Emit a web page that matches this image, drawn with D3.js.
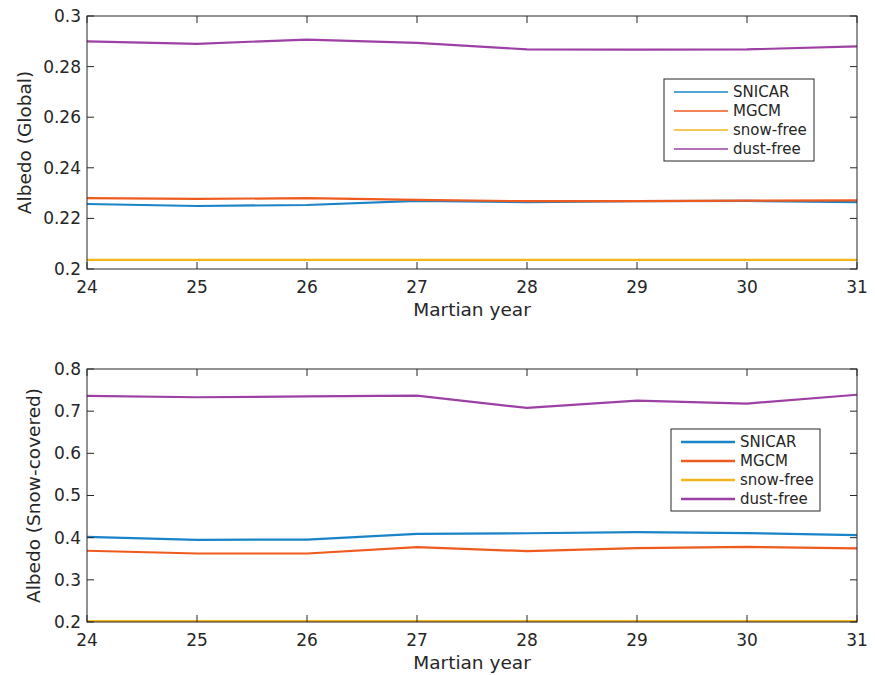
<!DOCTYPE html>
<html><head><meta charset="utf-8">
<script src="https://cdn.jsdelivr.net/npm/d3@7"></script>
<style>body{margin:0;background:#fff}svg{display:block}text{font-family:"DejaVu Sans",sans-serif;fill:#262626}</style>
</head><body><svg id="c" width="875" height="675"></svg>
<script>
const years = [24, 25, 26, 27, 28, 29, 30, 31];
const seriesNames = ["SNICAR", "MGCM", "snow-free", "dust-free"];
const seriesColors = ["#1a84c8", "#ef5a1e", "#f4b41c", "#9c40a4"];

const globalSNICAR = [0.2257, 0.2249, 0.2253, 0.2269, 0.2264, 0.2268, 0.2269, 0.2264];
const globalMGCM = [0.2280, 0.2277, 0.2280, 0.2273, 0.2268, 0.2268, 0.2270, 0.2271];
const globalSnowFree = [0.2036, 0.2036, 0.2036, 0.2036, 0.2036, 0.2036, 0.2036, 0.2036];
const globalDustFree = [0.2900, 0.2890, 0.2907, 0.2894, 0.2868, 0.2867, 0.2868, 0.2880];

const snowSNICAR = [0.402, 0.395, 0.3955, 0.409, 0.4105, 0.413, 0.411, 0.406];
const snowMGCM = [0.369, 0.3625, 0.3625, 0.3775, 0.368, 0.375, 0.378, 0.3745];
const snowSnowFree = [0.2024, 0.2024, 0.2024, 0.2024, 0.2024, 0.2024, 0.2024, 0.2024];
const snowDustFree = [0.7365, 0.733, 0.735, 0.737, 0.7076, 0.725, 0.718, 0.739];

const globalTicks = [0.2, 0.22, 0.24, 0.26, 0.28, 0.3];
const snowTicks = [0.2, 0.3, 0.4, 0.5, 0.6, 0.7, 0.8];

const svg = d3.select("#c");
const L = 87, R = 857;

function panel(top, bottom, domain, ticks, fmt, ylabel, labelX, data, legend, legendW) {
  const x = d3.scaleLinear().domain([24, 31]).range([L, R]);
  const y = d3.scaleLinear().domain(domain).range([bottom, top]);
  const g = svg.append("g");
  const tl = 7;
  const line = d3.line().x((d, i) => x(years[i])).y(d => y(d));
  data.forEach((s, k) => {
    g.append("path").attr("d", line(s)).attr("fill", "none")
      .attr("stroke", seriesColors[k]).attr("stroke-width", 2.2);
  });
  g.append("rect").attr("x", L).attr("y", top).attr("width", R - L).attr("height", bottom - top)
    .attr("fill", "none").attr("stroke", "#262626").attr("stroke-width", 1);
  years.forEach(v => {
    g.append("line").attr("x1", x(v)).attr("x2", x(v)).attr("y1", bottom).attr("y2", bottom - tl).attr("stroke", "#262626");
    g.append("line").attr("x1", x(v)).attr("x2", x(v)).attr("y1", top).attr("y2", top + tl).attr("stroke", "#262626");
    g.append("text").attr("x", x(v)).attr("y", bottom + 18).attr("dy", "0.35em").attr("text-anchor", "middle").attr("font-size", 17).text(v);
  });
  ticks.forEach(v => {
    g.append("line").attr("x1", L).attr("x2", L + tl).attr("y1", y(v)).attr("y2", y(v)).attr("stroke", "#262626");
    g.append("line").attr("x1", R).attr("x2", R - tl).attr("y1", y(v)).attr("y2", y(v)).attr("stroke", "#262626");
    g.append("text").attr("x", L - 6).attr("y", y(v)).attr("dy", "0.35em").attr("text-anchor", "end").attr("font-size", 17).text(fmt(v));
  });
  g.append("text").attr("x", (L + R) / 2).attr("y", bottom + 41).attr("dy", "0.35em").attr("text-anchor", "middle").attr("font-size", 18.5).text("Martian year");
  g.append("text").attr("transform", `translate(${labelX},${(top + bottom) / 2}) rotate(-90)`).attr("dy", "0.35em").attr("text-anchor", "middle").attr("font-size", 18.5).text(ylabel);
  const lg = g.append("g");
  lg.append("rect").attr("x", legend.x).attr("y", legend.y).attr("width", legend.w).attr("height", 82)
    .attr("fill", "#fff").attr("stroke", "#262626").attr("stroke-width", 1);
  seriesNames.forEach((n, k) => {
    const yy = legend.y + 13 + k * 19;
    lg.append("line").attr("x1", legend.x + 10).attr("x2", legend.x + 64).attr("y1", yy).attr("y2", yy)
      .attr("stroke", seriesColors[k]).attr("stroke-width", legendW);
    lg.append("text").attr("x", legend.x + 69).attr("y", yy).attr("dy", "0.35em").attr("font-size", 15).text(n);
  });
}

const f1 = v => (v === 0.2 || v === 0.3) ? d3.format(".1f")(v) : d3.format(".2f")(v);
panel(16, 269, [0.2, 0.3], globalTicks, f1, "Albedo (Global)", 25,
  [globalSNICAR, globalMGCM, globalSnowFree, globalDustFree], {x: 664, y: 79, w: 150}, 1.6);
panel(369, 622, [0.2, 0.8], snowTicks, d3.format(".1f"), "Albedo (Snow-covered)", 34,
  [snowSNICAR, snowMGCM, snowSnowFree, snowDustFree], {x: 671, y: 429, w: 149}, 2.6);
</script></body></html>
